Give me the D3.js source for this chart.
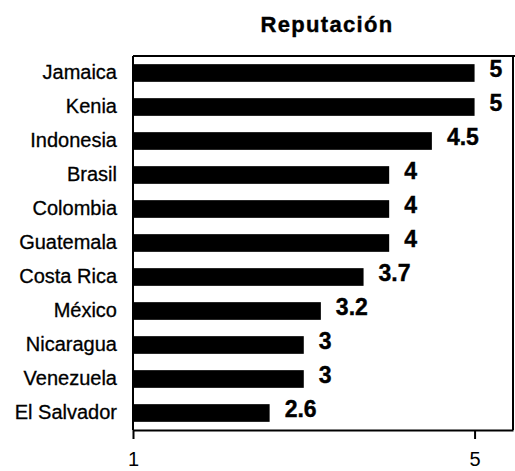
<!DOCTYPE html>
<html>
<head>
<meta charset="utf-8">
<script src="https://cdn.jsdelivr.net/npm/d3@7"></script>
<style>
  html, body { margin: 0; padding: 0; background: #fff; }
  svg { display: block; }
</style>
</head>
<body>
<script>
// Reputation score by country (scale 1–5)
const countries = ["Jamaica", "Kenia", "Indonesia", "Brasil", "Colombia", "Guatemala",
                   "Costa Rica", "México", "Nicaragua", "Venezuela", "El Salvador"];
const scores = [5, 5, 4.5, 4, 4, 4, 3.7, 3.2, 3, 3, 2.6];
const tickValues = [1, 5];
const chartTitle = "Reputación";

const W = 515, H = 471;
const plot = { left: 133, right: 513, top: 56, bottom: 430 };

const svg = d3.select("body").append("svg")
  .attr("width", W).attr("height", H)
  .style("font-family", "'Liberation Sans', Arial, Helvetica, sans-serif");

const x = d3.scaleLinear().domain([1, 5.45]).range([plot.left, plot.right]);
const y = d3.scaleBand().domain(countries)
  .range([plot.top, plot.bottom])
  .paddingInner(0.48).paddingOuter(0.24);

// title
svg.append("text")
  .attr("x", 327).attr("y", 32)
  .attr("text-anchor", "middle")
  .style("font-size", "22px").style("font-weight", "bold")
  .style("letter-spacing", "1.3px")
  .attr("stroke", "#000").attr("stroke-width", 0.4)
  .text(chartTitle);

// bars
svg.append("g").selectAll("rect")
  .data(countries)
  .join("rect")
  .attr("x", x(1))
  .attr("y", d => y(d))
  .attr("width", (d, i) => x(scores[i]) - x(1))
  .attr("height", y.bandwidth())
  .attr("fill", "#000");

// value labels
svg.append("g").selectAll("text")
  .data(countries)
  .join("text")
  .attr("x", (d, i) => x(scores[i]) + 15)
  .attr("y", d => y(d) + y.bandwidth() / 2 + 4)
  .style("font-size", "23px").style("font-weight", "bold")
  .attr("stroke", "#000").attr("stroke-width", 0.4)
  .text((d, i) => String(scores[i]));

// category labels
svg.append("g").selectAll("text")
  .data(countries)
  .join("text")
  .attr("x", 117)
  .attr("y", d => y(d) + y.bandwidth() / 2 + 6)
  .attr("text-anchor", "end")
  .style("font-size", "20px")
  .attr("stroke", "#000").attr("stroke-width", 0.3)
  .text(d => d);

// plot frame
const frame = svg.append("g").attr("fill", "none").attr("stroke", "#000").attr("stroke-width", 2);
frame.append("line").attr("x1", plot.left).attr("x2", W).attr("y1", plot.top).attr("y2", plot.top);
frame.append("line").attr("x1", plot.right).attr("x2", plot.right).attr("y1", plot.top).attr("y2", plot.bottom);
frame.append("line").attr("x1", plot.left).attr("x2", plot.left).attr("y1", plot.top).attr("y2", plot.bottom);

// x axis with ticks at 1 and 5
const xAxis = d3.axisBottom(x).tickValues(tickValues).tickSize(9).tickPadding(13).tickSizeOuter(0)
  .tickFormat(d3.format("d"));
const gx = svg.append("g").attr("transform", `translate(0,${plot.bottom})`).call(xAxis);
gx.select(".domain").attr("stroke", "#000").attr("stroke-width", 2);
gx.selectAll(".tick line").attr("stroke", "#000").attr("stroke-width", 2);
gx.selectAll(".tick text")
  .attr("fill", "#000")
  .style("font-size", "20px")
  .style("font-family", "'Liberation Sans', Arial, sans-serif");
</script>
</body>
</html>
